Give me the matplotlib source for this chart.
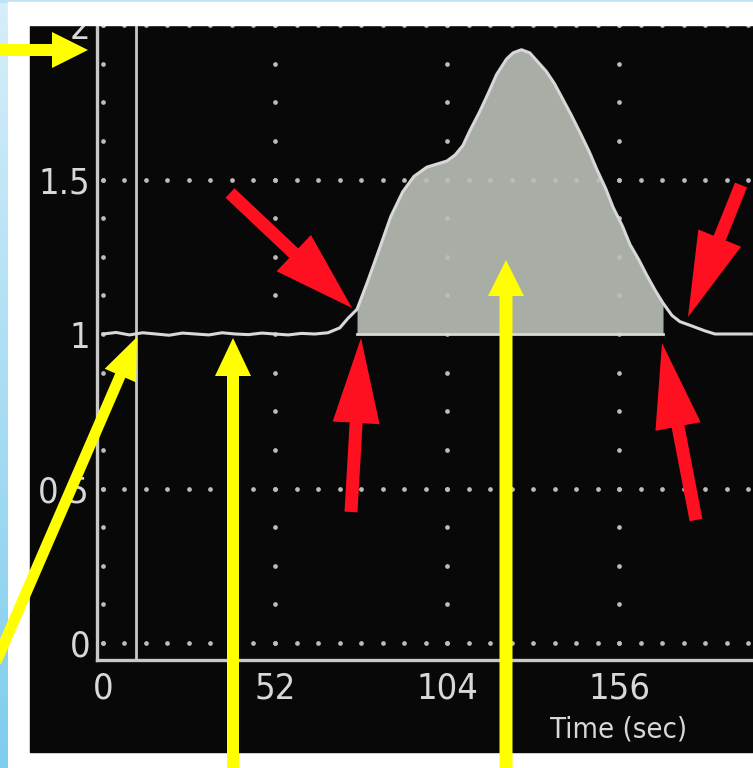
import numpy as np
import matplotlib.pyplot as plt
from matplotlib import font_manager
from matplotlib.patches import Rectangle, FancyArrow

# ---- data ----
time = [0, 4, 8, 12, 16, 20, 24, 28, 32, 36, 40, 44, 48, 52, 56, 60, 64, 68,
        71.6, 74, 76.8, 80, 83.7, 87, 90.6, 94, 97.9, 101, 104, 106.5, 108.8,
        111, 113.9, 116.5, 119, 122, 124, 126.5, 129, 131.5, 134, 136.5, 139,
        141.5, 144.3, 147, 149.4, 152, 154.2, 157, 159.3, 162, 164.4, 167,
        169.3, 172, 174.4, 177, 179.5, 182, 185, 190, 196]
signal = [1.0, 1.005, 0.997, 1.004, 1.0, 0.996, 1.003, 1.0, 0.997, 1.004, 1.0,
          0.998, 1.003, 1.0, 0.997, 1.002, 1.0, 1.004,
          1.02, 1.05, 1.08, 1.17, 1.28, 1.38, 1.46, 1.51, 1.54, 1.55, 1.56, 1.58,
          1.61, 1.66, 1.72, 1.78, 1.84, 1.89, 1.91, 1.92, 1.91, 1.88, 1.85,
          1.81, 1.76, 1.71, 1.65, 1.59, 1.53, 1.47, 1.41, 1.35, 1.29, 1.24,
          1.19, 1.14, 1.10, 1.06, 1.04, 1.03, 1.02, 1.01, 1.0, 1.0, 1.0]
fill_start, fill_end = 76.8, 169.3
baseline = 1.0
cursor_t = 10

xticks = [0, 52, 104, 156]
xtick_labels = ['0', '52', '104', '156']
yticks = [0, 0.5, 1, 1.5, 2]
ytick_labels = ['0', '0.5', '1', '1.5', '2']

# narrow font if one is around, else the narrower of the sans families
cond = font_manager.findfont(font_manager.FontProperties(family='DejaVu Sans', stretch='condensed'))
if 'Condensed' in cond:
    fnt = dict(family='DejaVu Sans', fontstretch='condensed')
else:
    fnt = dict(family='Liberation Sans')

W, H = 753, 768
fig = plt.figure(figsize=(W / 100, H / 100), dpi=100, facecolor='white')

# background: blue strip + black panel, in image pixel coords
bg = fig.add_axes([0, 0, 1, 1], zorder=0)
bg.set_xlim(0, W)
bg.set_ylim(H, 0)
bg.axis('off')
grad = np.linspace(0, 1, 256).reshape(-1, 1)
bg.imshow(grad, cmap=plt.matplotlib.colors.LinearSegmentedColormap.from_list(
    'b', ['#d6eef9', '#7fcdee']), extent=(0, 8, H, 0), aspect='auto')
bg.add_patch(Rectangle((0, 0), W, 2, color='#bfe3f5'))
bg.add_patch(Rectangle((30, 25), W - 30, 727, color='#080808'))

# main chart
ax = fig.add_axes([97 / W, (H - 660) / H, (W - 97) / W, (660 - 25) / H], zorder=1)
ax.set_facecolor('#080808')
ax.set_xlim(-1.81, 196.5)
ax.set_ylim(-0.055, 1.994)

fg = '#d8d8d8'
dot = '#bcbcbc'
# dotted grid
for yv in [0, 0.5, 1.5, 2]:
    gx = np.arange(0, 197, 6.5)
    ax.plot(gx, np.full_like(gx, yv), 'o', ms=3.4, color=dot, mec='none', clip_on=False)
for xv in xticks:
    gy = np.arange(0, 2.01, 0.125)
    ax.plot(np.full_like(gy, xv), gy, 'o', ms=3.4, color=dot, mec='none', clip_on=False)

t = np.array(time)
s = np.array(signal)
ax.axvline(cursor_t, color='#c8c8c8', lw=2)
ax.fill_between(t, baseline, s, where=(t >= fill_start) & (t <= fill_end),
                color='#a8ada6', lw=0)
ax.plot([fill_start, fill_end], [baseline, baseline], color=fg, lw=2)
ax.plot(t, s, color=fg, lw=2.2)

for side in ['top', 'right']:
    ax.spines[side].set_visible(False)
for side in ['left', 'bottom']:
    ax.spines[side].set_color('#c8c8c8')
    ax.spines[side].set_linewidth(2.4)

ax.set_xticks(xticks)
ax.set_xticklabels(xtick_labels, fontsize=26, color=fg, **fnt)
ax.set_yticks(yticks)
ax.set_yticklabels(ytick_labels, fontsize=26, color=fg, **fnt)
ax.tick_params(axis='x', length=0, pad=8)
ax.tick_params(axis='y', length=0, pad=5)
ax.text(156, -0.28, 'Time (sec)', fontsize=21, color=fg,
        ha='center', va='center', clip_on=False, **fnt)

# overlay for annotation arrows, in image pixel coords
ov = fig.add_axes([0, 0, 1, 1], zorder=2)
ov.set_xlim(0, W)
ov.set_ylim(H, 0)
ov.axis('off')
ov.patch.set_alpha(0)
ov.add_patch(Rectangle((8, 2), W - 8, 23, color='white'))

red_arrows = [((230, 193), (352, 308), 13, 50, 80),
              ((351, 512), (361, 338), 13, 47, 85),
              ((741, 185), (688, 317), 13, 46, 85),
              ((696, 520), (662, 343), 13, 46, 85)]
yellow_arrows = [((0, 50), (88, 50), 12, 36, 36),
                 ((-4, 662), (137, 337), 11, 34, 42),
                 ((233, 775), (233, 338), 12, 36, 38),
                 ((506, 775), (506, 260), 13, 36, 36)]
for arrows, col in [(red_arrows, '#ff1020'), (yellow_arrows, '#ffff00')]:
    for (x0, y0), (x1, y1), w, hw, hl in arrows:
        ov.add_patch(FancyArrow(x0, y0, x1 - x0, y1 - y0, width=w, head_width=hw,
                                head_length=hl, length_includes_head=True,
                                color=col, lw=0))

fig.savefig('out.png', dpi=100)
